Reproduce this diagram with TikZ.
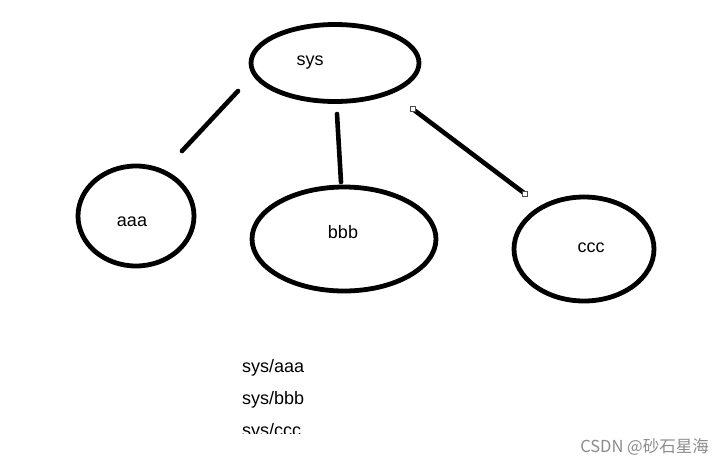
\documentclass[tikz,border=0pt]{standalone}
\usepackage{fontspec}
\setmainfont{Liberation Sans}
\newfontfamily\cjk{Noto Sans CJK SC}
\begin{document}
\begin{tikzpicture}[x=1pt,y=-1pt,
  oval/.style={line width=4.8pt},
  link/.style={line width=4.6pt,line cap=round},
  lbl/.style={font=\fontsize{18}{21}\selectfont,inner sep=0pt},
  handle/.style={draw=black!70,fill=white,line width=0.8pt,minimum size=5pt,inner sep=0pt,rectangle}]
\useasboundingbox (0,0) rectangle (723,467);
\fill[white] (0,0) rectangle (723,467);
% ellipses
\draw[oval] (335,63) ellipse [x radius=84,y radius=38.5];
\draw[oval] (136,216) ellipse [x radius=58,y radius=50];
\draw[oval] (344,239) ellipse [x radius=92,y radius=52];
\draw[oval] (584,249) ellipse [x radius=70,y radius=52];
% labels
\node[lbl] (sys) at (310,63) {sys};
\node[lbl] (aaa) at (132,222) {aaa};
\node[lbl] (bbb) at (343,232) {bbb};
\node[lbl] (ccc) at (591,248) {ccc};
% connector end points
\coordinate (l1a) at (238,91);
\coordinate (l1b) at (182,151);
\coordinate (l2a) at (337,114);
\coordinate (l2b) at (341,182);
\coordinate (l3a) at (414,110);
\coordinate (l3b) at (524,193);
\draw[link] (l1a) -- (l1b);
\draw[link] (l2a) -- (l2b);
\draw[link] (l3a) -- (l3b);
\node[handle] (h1) at (413,109) {};
\node[handle] (h2) at (525,194) {};
% paths text
\begin{scope}
\clip (0,0) rectangle (723,433.5);
\node[lbl,anchor=base west] (p1) at (242,372) {sys/aaa};
\node[lbl,anchor=base west] (p2) at (242,404) {sys/bbb};
\node[lbl,anchor=base west] (p3) at (242,436) {sys/ccc};
\end{scope}
% watermark
\node[font=\cjk\fontsize{16.5}{19}\selectfont,text=black!45,anchor=east,inner sep=0pt] (wm) at (709,447) {CSDN @砂石星海};
\end{tikzpicture}
\end{document}
